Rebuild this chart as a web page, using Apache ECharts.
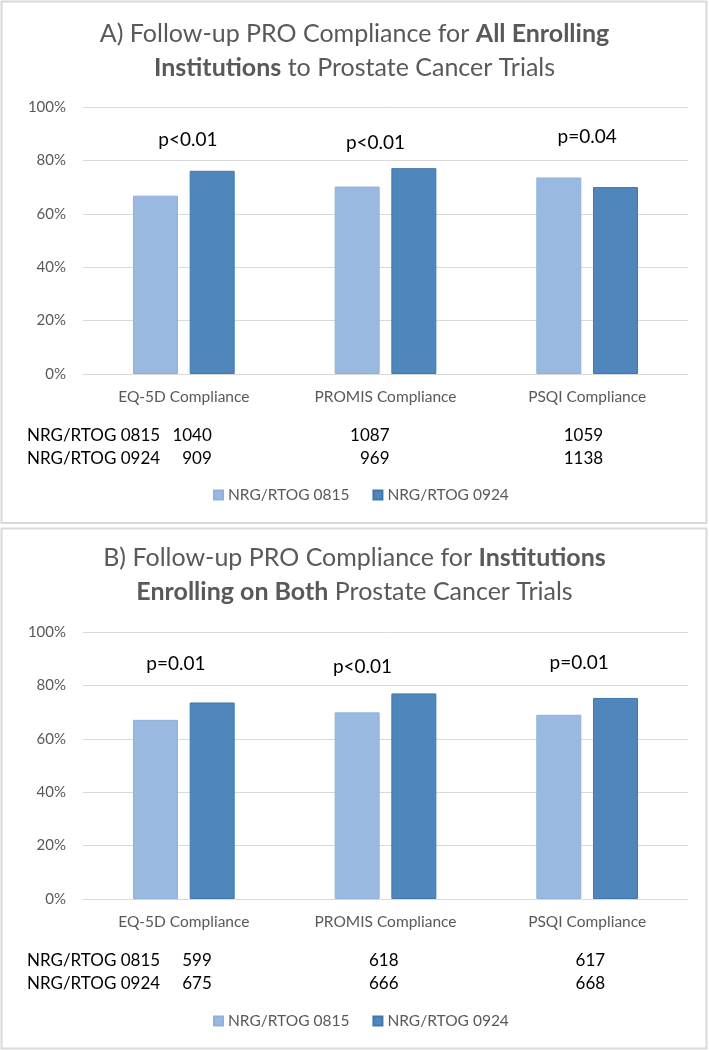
<!DOCTYPE html>
<html>
<head>
<meta charset="utf-8">
<script src="https://cdn.jsdelivr.net/npm/echarts@6/dist/echarts.min.js"></script>
<style>
html,body{margin:0;padding:0;background:#fff;}
#c{width:709px;height:1050px;}
</style>
</head>
<body>
<div id="c"></div>
<script>
// ---- data ----
const categories = ['EQ-5D Compliance', 'PROMIS Compliance', 'PSQI Compliance'];
const seriesNames = ['NRG/RTOG 0815', 'NRG/RTOG 0924'];
const yTicks = [0, 20, 40, 60, 80, 100];

const panelA_0815 = [66.8, 70.2, 73.6];
const panelA_0924 = [76.1, 77.1, 70.0];
const panelA_p = ['p<0.01', 'p<0.01', 'p=0.04'];
const panelA_n0815 = [1040, 1087, 1059];
const panelA_n0924 = [909, 969, 1138];

const panelB_0815 = [67.1, 69.9, 69.0];
const panelB_0924 = [73.6, 77.0, 75.3];
const panelB_p = ['p=0.01', 'p<0.01', 'p=0.01'];
const panelB_n0815 = [599, 618, 617];
const panelB_n0924 = [675, 666, 668];

// ---- layout / style ----
const FONT = 'Lato, "Open Sans", sans-serif';
const GRAY = '#595959';
const LIGHT = '#9AB9E0', LIGHT_B = '#8FB1DC';
const DARK = '#4F87BC', DARK_B = '#3F77AE';
const GRID = '#D9D9D9';

const panels = [
  {top: 0, gridTop: 107, gridH: 267, titleTop: 17,
   t1: ['A) Follow-up PRO Compliance for ', 'All Enrolling'],
   t2: ['Institutions', ' to Prostate Cancer Trials'],
   s1: panelA_0815, s2: panelA_0924, p: panelA_p, n1: panelA_n0815, n2: panelA_n0924,
   pY: [87.8, 86.6, 88.9], pDx: [4, -10, 0], nDx: [28, 4, 16], legendTop: 487},
  {top: 527, gridTop: 632, gridH: 267, titleTop: 541,
   t1: ['B) Follow-up PRO Compliance for ', 'Institutions'],
   t2: ['Enrolling on Both', ' Prostate Cancer Trials'],
   s1: panelB_0815, s2: panelB_0924, p: panelB_p, n1: panelB_n0815, n2: panelB_n0924,
   pY: [88.1, 87.0, 88.5], pDx: [-8, -23, -8], nDx: [28, 13, 18], legendTop: 1013}
];

const chart = echarts.init(document.getElementById('c'), null, {renderer: 'canvas'});

const option = {
  animation: false,
  backgroundColor: '#fff',
  textStyle: {fontFamily: FONT},
  title: [], legend: [], grid: [], xAxis: [], yAxis: [], series: [],
  graphic: []
};

panels.forEach((P, i) => {
  option.title.push({
    left: 'center', top: P.titleTop, padding: 0,
    text: '{n|' + P.t1[0] + '}{b|' + P.t1[1] + '}\n{b|' + P.t2[0] + '}{n|' + P.t2[1] + '}',
    textStyle: {
      fontWeight: 'normal',
      rich: {
        n: {fontFamily: FONT, fontSize: 25, color: GRAY, fontWeight: 'normal', lineHeight: 34},
        b: {fontFamily: FONT, fontSize: 25, color: GRAY, fontWeight: 'bold', lineHeight: 34}
      }
    }
  });
  option.legend.push({
    left: 213, top: P.legendTop, padding: 0, itemWidth: 9, itemHeight: 9, itemGap: 23,
    icon: 'rect', data: seriesNames,
    textStyle: {fontFamily: FONT, fontSize: 15.5, color: GRAY}
  });
  option.grid.push({left: 83, right: 21, top: P.gridTop, height: P.gridH});
  option.xAxis.push({
    type: 'category', gridIndex: i, data: categories,
    axisLine: {lineStyle: {color: GRID, width: 1}},
    axisTick: {show: false},
    axisLabel: {fontFamily: FONT, fontSize: 15.5, color: GRAY, margin: 15}
  });
  option.yAxis.push({
    type: 'value', gridIndex: i, min: yTicks[0], max: yTicks[yTicks.length - 1],
    interval: yTicks[1] - yTicks[0],
    axisLine: {show: false}, axisTick: {show: false},
    splitLine: {lineStyle: {color: GRID, width: 1}},
    axisLabel: {fontFamily: FONT, fontSize: 15, color: GRAY, margin: 17, formatter: '{value}%'}
  });
  option.series.push({
    name: seriesNames[0], type: 'bar', xAxisIndex: i, yAxisIndex: i,
    data: P.s1, barWidth: 45, barGap: '26%',
    itemStyle: {color: LIGHT, borderColor: LIGHT_B, borderWidth: 1}
  });
  option.series.push({
    name: seriesNames[1], type: 'bar', xAxisIndex: i, yAxisIndex: i,
    data: P.s2, barWidth: 45, barGap: '26%',
    itemStyle: {color: DARK, borderColor: DARK_B, borderWidth: 1}
  });
  option.graphic.push({
    type: 'rect', silent: true,
    shape: {x: 1.5, y: P.top + 1.5, width: 705, height: (i === 0 ? 521.5 : 520)},
    style: {fill: 'none', stroke: GRID, lineWidth: 2}
  });
});

chart.setOption(option);

const extra = [];
panels.forEach((P, i) => {
  categories.forEach((c, k) => {
    const pt = chart.convertToPixel({gridIndex: i}, [c, P.pY[k]]);
    extra.push({
      type: 'text', silent: true, x: pt[0] + P.pDx[k], y: pt[1],
      style: {text: P.p[k], fill: '#000', font: '19px ' + FONT, align: 'center', verticalAlign: 'middle'}
    });
    const base = chart.convertToPixel({gridIndex: i}, [c, 0]);
    extra.push({
      type: 'text', silent: true, x: base[0] + P.nDx[k], y: base[1] + 61.5,
      style: {text: String(P.n1[k]), fill: '#000', font: '17px ' + FONT, align: 'right', verticalAlign: 'middle'}
    });
    extra.push({
      type: 'text', silent: true, x: base[0] + P.nDx[k], y: base[1] + 84.5,
      style: {text: String(P.n2[k]), fill: '#000', font: '17px ' + FONT, align: 'right', verticalAlign: 'middle'}
    });
  });
  const b0 = chart.convertToPixel({gridIndex: i}, [categories[0], 0]);
  seriesNames.forEach((s, r) => {
    extra.push({
      type: 'text', silent: true, x: 27, y: b0[1] + 61.5 + r * 23,
      style: {text: s, fill: '#000', font: '17px ' + FONT, align: 'left', verticalAlign: 'middle'}
    });
  });
});
chart.setOption({graphic: option.graphic.concat(extra)});
</script>
</body>
</html>
